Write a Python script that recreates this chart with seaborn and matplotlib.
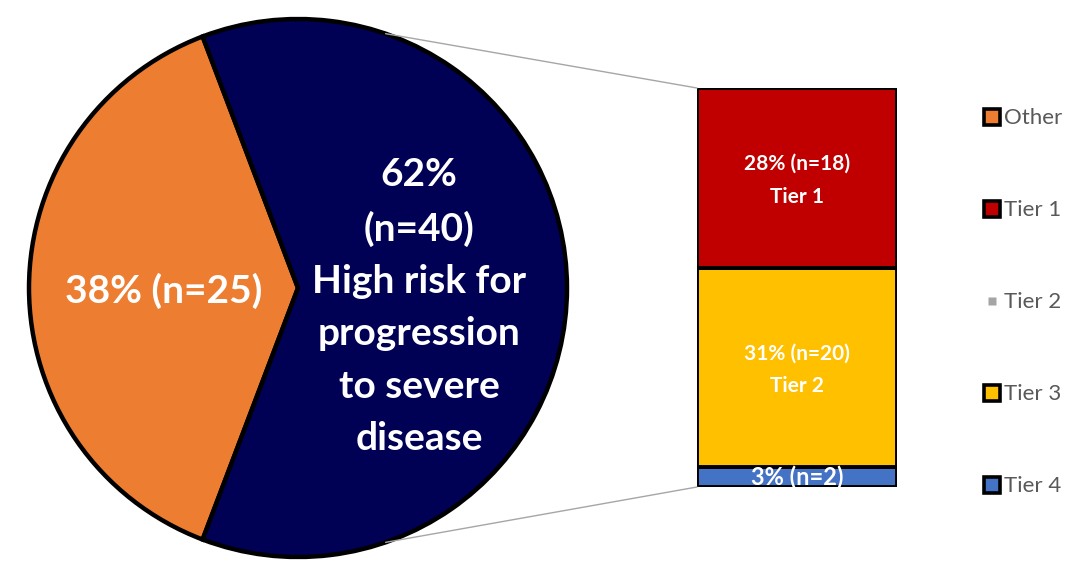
import numpy as np
import matplotlib
matplotlib.use("Agg")
import matplotlib.pyplot as plt
from matplotlib.patches import ConnectionPatch
from matplotlib.lines import Line2D
import seaborn as sns

# === Data ===
pie_labels = ["Other", "High risk"]
pie_counts = [25, 40]
pie_texts = ["38% (n=25)", "62%\n(n=40)\nHigh risk for\nprogression\nto severe\ndisease"]
pie_colors = ["#ED7D31", "#000054"]

tiers = ["Tier 4", "Tier 3", "Tier 2", "Tier 1"]   # bottom to top
tier_counts = [2, 20, 0, 18]
tier_texts = ["3% (n=2)", "31% (n=20)\nTier 2", "", "28% (n=18)\nTier 1"]
tier_colors = ["#4472C4", "#FFC000", "#A5A5A5", "#C00000"]

legend_labels = ["Other", "Tier 1", "Tier 2", "Tier 3", "Tier 4"]
legend_colors = ["#ED7D31", "#C00000", "#A5A5A5", "#FFC000", "#4472C4"]

# === Setup ===
sns.set_theme(style="white")
plt.rcParams['font.family'] = ['Lato', 'DejaVu Sans']

W, H = 1084, 568
fig = plt.figure(figsize=(W / 100, H / 100), dpi=100)

# pie axes (center ~ (298, 288), radius ~ 269 px)
R = 269
ax_pie = fig.add_axes([(298 - R) / W, (H - 288 - R) / H, 2 * R / W, 2 * R / H])
start = 180 - 0.5 * 360 * pie_counts[0] / sum(pie_counts)
wedges, _ = ax_pie.pie(pie_counts, colors=pie_colors, startangle=start,
                       counterclock=True, radius=1,
                       wedgeprops=dict(edgecolor="black", linewidth=3.2))
ax_pie.set_xlim(-1.0, 1.0)
ax_pie.set_ylim(-1.0, 1.0)
ax_pie.axis("off")

ax_pie.text(-0.5, -0.01, pie_texts[0], color="white", fontsize=28, fontweight="bold",
            ha="center", va="center")
ax_pie.text(0.45, -0.07, pie_texts[1], color="white", fontsize=28, fontweight="bold",
            ha="center", va="center", linespacing=1.6)

# bar axes (x 697-897, y 88-487 px)
ax_bar = fig.add_axes([697 / W, (H - 487) / H, 200 / W, 399 / H])
bottoms = np.concatenate([[0], np.cumsum(tier_counts)[:-1]])
total = sum(tier_counts)
for cnt, btm, col, txt in zip(tier_counts, bottoms, tier_colors, tier_texts):
    if cnt == 0:
        continue
    ax_bar.bar(0, cnt, bottom=btm, width=1, color=col, edgecolor="black", linewidth=2.8)
    if txt:
        fs = 17 if cnt < 5 else 15
        ax_bar.text(0, btm + cnt / 2 - (0.25 if cnt >= 5 else 0), txt, color="white",
                    fontsize=fs, fontweight="bold",
                    ha="center", va="center", linespacing=1.8)
ax_bar.set_xlim(-0.5, 0.5)
ax_bar.set_ylim(0, total)
ax_bar.axis("off")

# connector lines
ang = np.deg2rad(71)
for sgn, ytgt in [(1, total), (-1, 0)]:
    con = ConnectionPatch(xyA=(np.cos(ang), sgn * np.sin(ang)), coordsA=ax_pie.transData,
                          xyB=(-0.5, ytgt), coordsB=ax_bar.transData,
                          color="#A6A6A6", linewidth=1)
    fig.add_artist(con)

# legend
handles = []
for lab, col in zip(legend_labels, legend_colors):
    if lab == "Tier 2":
        h = Line2D([], [], marker="s", linestyle="none", markersize=6,
                   markerfacecolor=col, markeredgecolor="none")
    else:
        h = Line2D([], [], marker="s", linestyle="none", markersize=11,
                   markerfacecolor=col, markeredgecolor="black", markeredgewidth=2.6)
    handles.append(h)
fig.legend(handles, legend_labels, loc="upper left",
           bbox_to_anchor=(975 / W, 1 - 99.5 / H), frameon=False,
           fontsize=16, labelcolor="#595959", labelspacing=3.24,
           handlelength=0.7, handletextpad=0.2, borderaxespad=0)

fig.savefig("out.png", dpi=100)
